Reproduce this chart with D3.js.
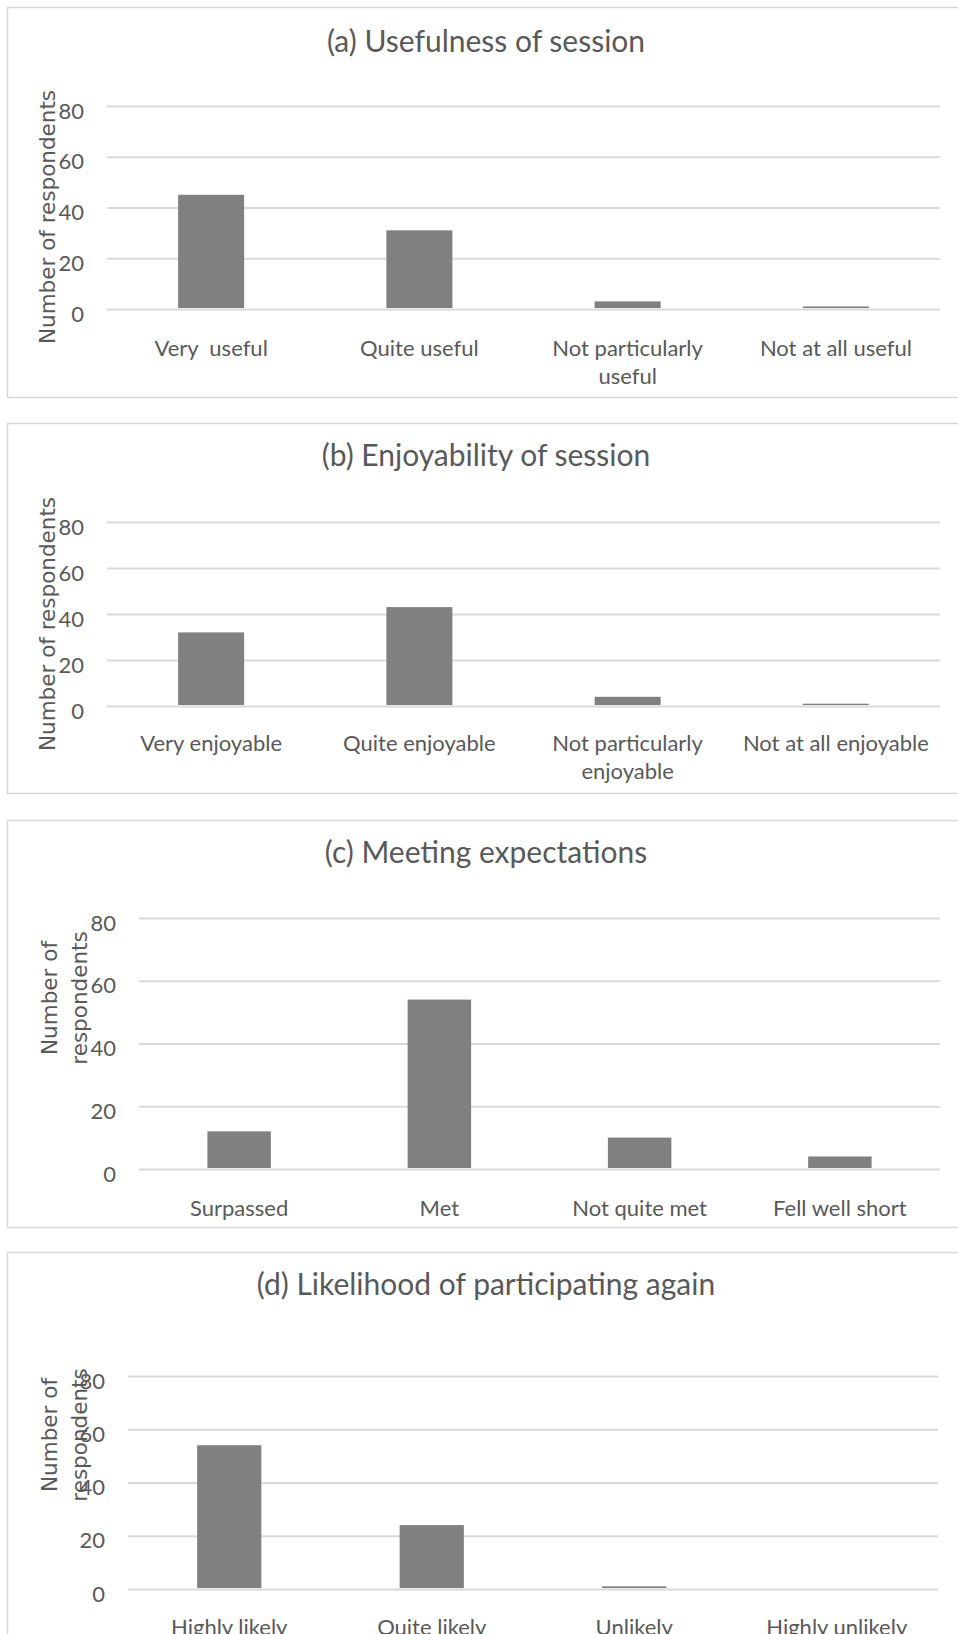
<!DOCTYPE html>
<html>
<head>
<meta charset="utf-8">
<script src="https://cdn.jsdelivr.net/npm/d3@7"></script>
<style>
  body { margin: 0; background: #fff; }
  text { white-space: pre; }
</style>
</head>
<body>
<div id="svg-container"></div>
<script>
// values
const yTicks = [0, 20, 40, 60, 80]

const usefulnessCats = ["Very  useful", "Quite useful", "Not particularly|useful", "Not at all useful"]
const usefulnessVals = [45, 31, 3, 1]

const enjoyCats = ["Very enjoyable", "Quite enjoyable", "Not particularly|enjoyable", "Not at all enjoyable"]
const enjoyVals = [32, 43, 4, 1]

const expectCats = ["Surpassed", "Met", "Not quite met", "Fell well short"]
const expectVals = [12, 54, 10, 4]

const againCats = ["Highly likely", "Quite likely", "Unlikely", "Highly unlikely"]
const againVals = [54, 24, 1, 0]

const titles = [
  "(a) Usefulness of session",
  "(b) Enjoyability of session",
  "(c) Meeting expectations",
  "(d) Likelihood of participating again"
]

const svg = d3.select("#svg-container")
  .append("svg")
    .attr("width", 958)
    .attr("height", 1634)

const textColor = "#595959"
const gridColor = "#d9d9d9"
const barColor = "#808080"
const labelFont = "Lato, sans-serif"
const axisTitleFont = "'DejaVu Sans', sans-serif"

// layout of each panel (page pixels)
const panels = [
  { cats: usefulnessCats, vals: usefulnessVals, title: titles[0],
    box: [7, 397], titleY: 52, left: 107, right: 940, y0: 309, y80: 106, labelY: 348,
    yTitle: ["Number of respondents"], yTitleX: [47], yTitleY: 217 },
  { cats: enjoyCats, vals: enjoyVals, title: titles[1],
    box: [423, 793], titleY: 466, left: 107, right: 940, y0: 706, y80: 522, labelY: 743,
    yTitle: ["Number of respondents"], yTitleX: [47], yTitleY: 624 },
  { cats: expectCats, vals: expectVals, title: titles[2],
    box: [820, 1227], titleY: 863, left: 139, right: 940, y0: 1169, y80: 918, labelY: 1208,
    yTitle: ["Number of", "respondents"], yTitleX: [49, 79], yTitleY: 998 },
  { cats: againCats, vals: againVals, title: titles[3],
    box: [1252, 1700], titleY: 1295, left: 128, right: 938, y0: 1589, y80: 1376, labelY: 1627,
    yTitle: ["Number of", "respondents"], yTitleX: [49, 79], yTitleY: 1435 }
]

const drawPanel = (p) => {
  const g = svg.append("g")

  g.append("rect")
    .attr("x", 7.5)
    .attr("y", p.box[0] + 0.5)
    .attr("width", 1000)
    .attr("height", p.box[1] - p.box[0])
    .attr("fill", "none")
    .attr("stroke", gridColor)
    .attr("stroke-width", 1.5)

  g.append("text")
    .text(p.title)
    .attr("x", 486)
    .attr("y", p.titleY)
    .attr("text-anchor", "middle")
    .attr("fill", textColor)
    .style("font-family", labelFont)
    .style("font-size", "30px")

  const xScale = d3.scaleBand()
    .domain(p.cats)
    .range([p.left, p.right])
    .paddingInner(0.683)
    .paddingOuter(0.3415)

  const yScale = d3.scaleLinear()
    .domain([0, 80])
    .range([p.y0, p.y80])

  const yAxis = g.append("g")
    .attr("transform", `translate(${p.left},0)`)
    .call(d3.axisLeft(yScale).tickValues(yTicks).tickSize(-(p.right - p.left)).tickPadding(23))

  yAxis.select(".domain").remove()
  yAxis.selectAll(".tick line")
    .attr("stroke", gridColor)
    .attr("stroke-width", 2)
  yAxis.selectAll(".tick text")
    .attr("fill", textColor)
    .attr("dy", "0.55em")
    .style("font-family", labelFont)
    .style("font-size", "22px")

  g.selectAll("rect.bar")
    .data(p.cats.map((c, i) => ({ cat: c, val: p.vals[i] })))
    .join("rect")
      .attr("class", "bar")
      .attr("x", d => xScale(d.cat))
      .attr("width", xScale.bandwidth())
      .attr("y", d => yScale(d.val))
      .attr("height", d => yScale(0) - yScale(d.val) - 1)
      .attr("fill", barColor)

  const labels = g.selectAll("text.cat")
    .data(p.cats)
    .join("text")
      .attr("class", "cat")
      .attr("x", d => xScale(d) + xScale.bandwidth() / 2)
      .attr("y", p.labelY)
      .attr("text-anchor", "middle")
      .attr("fill", textColor)
      .style("font-family", labelFont)
      .style("font-size", "22px")

  labels.selectAll("tspan")
    .data(d => d.split("|"))
    .join("tspan")
      .attr("x", function() { return d3.select(this.parentNode).attr("x") })
      .attr("dy", (d, i) => i === 0 ? "0.35em" : "1.3em")
      .text(d => d)

  p.yTitle.forEach((line, i) => {
    g.append("text")
      .text(line)
      .attr("transform", `translate(${p.yTitleX[i]},${p.yTitleY}) rotate(-90)`)
      .attr("text-anchor", "middle")
      .attr("dy", "0.35em")
      .attr("fill", textColor)
      .style("font-family", axisTitleFont)
      .style("font-size", "21.5px")
  })
}

panels.forEach(drawPanel)
</script>
</body>
</html>
